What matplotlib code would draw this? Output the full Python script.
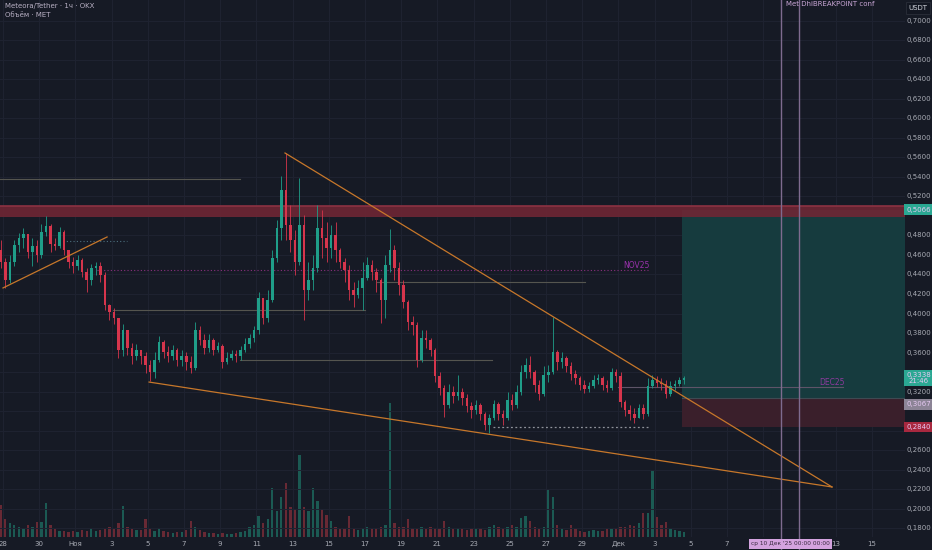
import numpy as np
import matplotlib
matplotlib.use("Agg")
import matplotlib.pyplot as plt
import matplotlib.transforms as mtrans

# 6h candles, time in days since 28 Oct 00:00
t_start = np.arange(152) * 0.25 - 0.25
closes = [0.4528, 0.4343, 0.4528, 0.4702, 0.4774, 0.4815, 0.4631, 0.4692, 0.4600, 0.4836,
          0.4897, 0.4713, 0.4692, 0.4836, 0.4651, 0.4528, 0.4487, 0.4548, 0.4425, 0.4343,
          0.4466, 0.4487, 0.4394, 0.4087, 0.4015, 0.3954, 0.3625, 0.3830, 0.3646, 0.3564,
          0.3625, 0.3564, 0.3472, 0.3400, 0.3523, 0.3707, 0.3605, 0.3564, 0.3625, 0.3523,
          0.3564, 0.3502, 0.3441, 0.3830, 0.3728, 0.3646, 0.3728, 0.3625, 0.3666, 0.3502,
          0.3543, 0.3584, 0.3564, 0.3625, 0.3687, 0.3748, 0.3830, 0.4159, 0.3954, 0.4138,
          0.4569, 0.4877, 0.5266, 0.4907, 0.4754, 0.4528, 0.4907, 0.4241, 0.4343, 0.4466,
          0.4877, 0.4774, 0.4672, 0.4805, 0.4651, 0.4528, 0.4446, 0.4241, 0.4189, 0.4261,
          0.4364, 0.4497, 0.4425, 0.4343, 0.4138, 0.4497, 0.4651, 0.4466, 0.4292, 0.4118,
          0.3913, 0.3882, 0.3523, 0.3748, 0.3728, 0.3625, 0.3359, 0.3236, 0.3061, 0.3194,
          0.3153, 0.3194, 0.3133, 0.3051, 0.3010, 0.3061, 0.2969, 0.2856, 0.2928, 0.3071,
          0.2969, 0.2928, 0.3112, 0.3061, 0.3194, 0.3400, 0.3472, 0.3400, 0.3266, 0.3174,
          0.3369, 0.3400, 0.3605, 0.3502, 0.3543, 0.3461, 0.3379, 0.3338, 0.3266, 0.3225,
          0.3256, 0.3318, 0.3338, 0.3266, 0.3236, 0.3400, 0.3359, 0.3092, 0.3010, 0.2969,
          0.2928, 0.3030, 0.2969, 0.3256, 0.3318, 0.3287, 0.3277, 0.3174, 0.3256, 0.3277,
          0.3318, 0.3338]
highs = [0.4754, 0.4569, 0.4600, 0.4754, 0.4825, 0.4877, 0.4795, 0.4774, 0.4754, 0.4918,
         0.4999, 0.4918, 0.4774, 0.4887, 0.4856, 0.4651, 0.4579, 0.4600, 0.4569, 0.4466,
         0.4507, 0.4528, 0.4528, 0.4425, 0.4097, 0.4056, 0.3954, 0.3892, 0.3830, 0.3697,
         0.3687, 0.3625, 0.3605, 0.3523, 0.3605, 0.3769, 0.3728, 0.3666, 0.3677, 0.3646,
         0.3625, 0.3605, 0.3564, 0.3913, 0.3871, 0.3789, 0.3789, 0.3748, 0.3707, 0.3687,
         0.3605, 0.3625, 0.3625, 0.3666, 0.3748, 0.3789, 0.3871, 0.4220, 0.4138, 0.4241,
         0.4651, 0.4959, 0.5410, 0.5646, 0.5112, 0.4856, 0.5389, 0.5010, 0.4528, 0.4600,
         0.5112, 0.5061, 0.4938, 0.4907, 0.4938, 0.4672, 0.4569, 0.4497, 0.4323, 0.4343,
         0.4528, 0.4579, 0.4548, 0.4466, 0.4364, 0.4600, 0.4866, 0.4702, 0.4528, 0.4343,
         0.4138, 0.3974, 0.3913, 0.3830, 0.3830, 0.3748, 0.3646, 0.3400, 0.3266, 0.3277,
         0.3256, 0.3369, 0.3236, 0.3174, 0.3092, 0.3112, 0.3082, 0.2989, 0.2969, 0.3112,
         0.3092, 0.3010, 0.3194, 0.3174, 0.3266, 0.3472, 0.3543, 0.3564, 0.3420, 0.3318,
         0.3461, 0.3472, 0.3964, 0.3625, 0.3605, 0.3564, 0.3502, 0.3420, 0.3359, 0.3318,
         0.3297, 0.3369, 0.3379, 0.3359, 0.3318, 0.3441, 0.3430, 0.3400, 0.3112, 0.3061,
         0.3030, 0.3071, 0.3071, 0.3338, 0.3369, 0.3359, 0.3338, 0.3318, 0.3307, 0.3318,
         0.3348, 0.3359]
lows = [0.4466, 0.4261, 0.4312, 0.4487, 0.4631, 0.4672, 0.4569, 0.4487, 0.4528, 0.4569,
        0.4795, 0.4631, 0.4651, 0.4672, 0.4600, 0.4466, 0.4415, 0.4446, 0.4374, 0.4220,
        0.4292, 0.4394, 0.4323, 0.4036, 0.3933, 0.3892, 0.3543, 0.3564, 0.3574, 0.3482,
        0.3523, 0.3482, 0.3389, 0.3307, 0.3338, 0.3502, 0.3543, 0.3502, 0.3523, 0.3461,
        0.3461, 0.3420, 0.3389, 0.3420, 0.3677, 0.3584, 0.3605, 0.3574, 0.3605, 0.3441,
        0.3482, 0.3523, 0.3502, 0.3523, 0.3605, 0.3646, 0.3707, 0.3789, 0.3892, 0.3913,
        0.4118, 0.4528, 0.4754, 0.4754, 0.4631, 0.4394, 0.4497, 0.3933, 0.4138, 0.4241,
        0.4425, 0.4569, 0.4528, 0.4569, 0.4528, 0.4466, 0.4323, 0.4138, 0.4066, 0.4159,
        0.4036, 0.4343, 0.4343, 0.4220, 0.3902, 0.3954, 0.4425, 0.4343, 0.4189, 0.4056,
        0.3830, 0.3779, 0.3451, 0.3502, 0.3646, 0.3564, 0.3297, 0.3164, 0.2938, 0.3030,
        0.3082, 0.3112, 0.3061, 0.2989, 0.2928, 0.2969, 0.2907, 0.2805, 0.2774, 0.2907,
        0.2907, 0.2856, 0.2907, 0.3010, 0.3030, 0.3164, 0.3338, 0.3338, 0.3194, 0.3112,
        0.3153, 0.3297, 0.3379, 0.3420, 0.3441, 0.3400, 0.3318, 0.3277, 0.3215, 0.3184,
        0.3194, 0.3236, 0.3277, 0.3215, 0.3194, 0.3215, 0.3297, 0.3041, 0.2948, 0.2907,
        0.2877, 0.2948, 0.2918, 0.2948, 0.3236, 0.3246, 0.3215, 0.3133, 0.3153, 0.3215,
        0.3256, 0.3277]
volumes = [32, 18, 14, 12, 10, 9, 12, 10, 15, 15,
           34, 12, 8, 6, 6, 5, 6, 5, 7, 6,
           9, 6, 7, 8, 10, 8, 14, 31, 10, 8,
           7, 7, 18, 8, 6, 9, 6, 5, 4, 5,
           5, 7, 16, 10, 7, 5, 4, 4, 3, 4,
           3, 3, 4, 5, 6, 10, 12, 21, 14, 18,
           49, 26, 40, 54, 30, 28, 82, 30, 26, 49,
           36, 28, 22, 16, 10, 8, 8, 21, 8, 7,
           9, 10, 8, 9, 10, 12, 134, 14, 10, 10,
           18, 9, 8, 10, 8, 10, 9, 8, 16, 10,
           8, 9, 8, 7, 8, 8, 9, 7, 10, 12,
           10, 9, 10, 12, 10, 19, 21, 16, 10, 8,
           10, 47, 40, 12, 8, 7, 12, 8, 6, 5,
           6, 7, 6, 6, 8, 8, 9, 10, 10, 12,
           11, 14, 24, 24, 67, 20, 12, 15, 8, 7,
           6, 5]
first_open = 0.4651

# drawings
tick_days = [0, 2, 4, 6, 8, 10, 12, 14, 16, 18, 20, 22, 24, 26, 28, 30, 32, 34, 36, 38, 40, 42, 44, 46, 48]
tick_labels = ["28", "30", "Ноя", "3", "5", "7", "9", "11", "13", "15", "17", "19", "21",
               "23", "25", "27", "29", "Дек", "3", "5", "7", "", "", "13", "15"]
price_ticks = np.round(np.arange(0.18, 0.7001, 0.02), 2)
trend_lines = [((0.0, 0.4262), (5.75, 0.4785)),
               ((15.58, 0.5646), (45.8, 0.2221)),
               ((8.07, 0.3297), (45.8, 0.2221))]
grey_levels = [(0.5377, -0.17, 13.09), (0.4036, 6.08, 20.0),
               (0.3523, 13.09, 27.02), (0.4326, 20.66, 32.15)]
resist_zone = (0.4990, 0.5103)
target, entry, stop = 0.5066, 0.3133, 0.2836
pos_start = 37.5
vlines_days = [43.0, 44.0]
axis_tags = [(target, "0,5066", "#2aa893", 0.007),
             (0.3338, "0,3338\n21:46", "#2aa893", 0.012),
             (0.3067, "0,3067", "#8c8496", 0.007),
             (0.2840, "0,2840", "#a8283f", 0.007)]

BG = "#161a25"
GRID = "#1f2331"
TXT = "#a8abb4"
UP, DN = "#1f9e89", "#d6354c"
UPV, DNV = "#1b5a53", "#682934"

o = np.array([first_open] + closes[:-1])
c = np.array(closes)
h = np.maximum(np.array(highs), np.maximum(o, c))
l = np.minimum(np.array(lows), np.minimum(o, c))
tc = t_start + 0.125
up = c >= o

fig = plt.figure(figsize=(9.32, 5.5), dpi=100, facecolor=BG)
rect = [0, 13 / 550, 905 / 932, 537 / 550]
xlim = (-0.166, 49.834)

axv = fig.add_axes(rect)
axv.set_facecolor(BG)
axv.set_xlim(*xlim)
axv.set_ylim(0, 537)
axv.axis("off")
axv.bar(tc, volumes, width=0.13, color=np.where(up, UPV, DNV), linewidth=0)

ax = fig.add_axes(rect)
ax.set_facecolor("none")
ax.set_xlim(*xlim)
ax.set_ylim(0.1708, 0.7215)
ax.set_xticks([])
ax.set_yticks([])
for s in ax.spines.values():
    s.set_visible(False)

for d in tick_days:
    ax.axvline(d, color=GRID, lw=0.7, zorder=0)
for p in price_ticks:
    ax.axhline(p, color=GRID, lw=0.7, zorder=0)

# long position box
ax.fill_between([pos_start, xlim[1]], entry, target, color="#163b3e", lw=0, zorder=1)
ax.fill_between([pos_start, xlim[1]], stop, entry, color="#3a1f2b", lw=0, zorder=1)
ax.plot([pos_start, xlim[1]], [entry, entry], color="#3e4a52", lw=0.8, zorder=1)

# resistance zone
ax.fill_between(xlim, resist_zone[0], resist_zone[1], color="#6e2634", alpha=0.9, lw=0, zorder=2)
ax.plot(xlim, [resist_zone[1], resist_zone[1]], color="#8c3242", lw=1.2, zorder=2)

for lv, x0, x1 in grey_levels:
    ax.plot([x0, x1], [lv, lv], color="#55554f", lw=0.8, zorder=2)

ax.plot([3.31, 6.85], [0.4747, 0.4747], color="#4d7080", lw=0.8, ls=(0, (1, 2)), zorder=2)
ax.plot([5.19, 35.64], [0.4446, 0.4446], color="#8a2f7e", lw=0.8, ls=(0, (1, 2)), zorder=2)
ax.text(35.0, 0.4497, "NOV25", color="#9a32ac", fontsize=5.5, ha="center", va="center")
ax.plot([27.07, 35.75], [0.2836, 0.2836], color="#8f929b", lw=0.9, ls=(0, (1.5, 2)), zorder=2)
ax.plot([33.98, 46.4], [0.3246, 0.3246], color="#5e5468", lw=0.8, zorder=2)
ax.text(45.8, 0.3297, "DEC25", color="#8e3a9e", fontsize=5.5, ha="center", va="center")

for (x0, y0), (x1, y1) in trend_lines:
    ax.plot([x0, x1], [y0, y1], color="#c7772a", lw=0.9, zorder=5)

ax.vlines(tc, l, h, colors=np.where(up, UP, DN), lw=0.6, zorder=3)
body = np.maximum(np.abs(c - o), 0.0006)
ax.bar(tc, body, bottom=np.minimum(o, c), width=0.14,
       color=np.where(up, UP, DN), linewidth=0, zorder=4)

for d in vlines_days:
    ax.axvline(d, ymin=-13 / 537, ymax=1, color="#7e6b8f", lw=1, clip_on=False, zorder=6)

# time axis
tx = mtrans.blended_transform_factory(ax.transData, ax.transAxes)
for d, lab in zip(tick_days, tick_labels):
    if lab:
        ax.text(d, -7 / 537, lab, transform=tx, color=TXT, fontsize=5, ha="center", va="center")
ax.text(43.5, -7 / 537, "ср 10 Дек '25 00:00 00:00", transform=tx, color="#3a2a40",
        fontsize=4.2, ha="center", va="center", zorder=7,
        bbox=dict(boxstyle="square,pad=0.35", fc="#d4a3df", ec="none"))

# price axis
ty = mtrans.blended_transform_factory(ax.transAxes, ax.transData)
for p in price_ticks:
    if any(abs(p - tp) < gap for tp, _, _, gap in axis_tags):
        continue
    ax.text(1.0149, p, f"{p:.4f}".replace(".", ","), transform=ty, color=TXT,
            fontsize=5, ha="center", va="center", clip_on=False)
for p, lab, fc, _ in axis_tags:
    ax.text(1.0149, p, lab, transform=ty, color="#e6c8f2", fontsize=5, ha="center", va="center",
            clip_on=False, zorder=8, linespacing=1.0,
            bbox=dict(boxstyle="square,pad=0.3", fc=fc, ec="none"))

fig.text(918 / 932, 1 - 8 / 550, "USDT", color="#d1d4dc", fontsize=5, ha="center", va="center",
         bbox=dict(boxstyle="square,pad=0.4", fc="#131722", ec="#2a2e39", lw=0.6))

fig.text(5 / 932, 1 - 6 / 550, "Meteora/Tether · 1ч · OKX", color="#b8b0c4", fontsize=5,
         ha="left", va="center")
fig.text(5 / 932, 1 - 15 / 550, "Объём · MET", color="#b8b0c4", fontsize=5,
         ha="left", va="center")
fig.text(786 / 932, 1 - 4 / 550, "Met DhiBREAKPOINT conf", color="#c9a6d6", fontsize=5,
         ha="left", va="center")

fig.savefig("out.png", dpi=100, facecolor=BG)
